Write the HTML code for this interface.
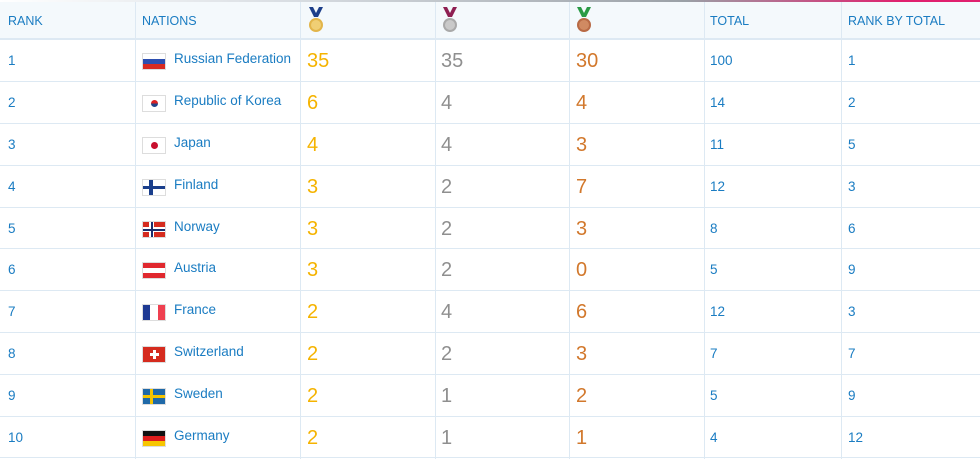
<!DOCTYPE html>
<html><head><style>
*{margin:0;padding:0;box-sizing:border-box}
body{width:980px;height:459px;background:#fff;font-family:"Liberation Sans",sans-serif;position:relative;overflow:hidden}
.top{position:absolute;left:0;top:0;width:980px;height:3px;background:linear-gradient(90deg,#fff,#d8dde2 30%,#9aa0a6 70%,#e0206e 92%,#e0206e)}
.hdr{position:absolute;left:0;top:2px;width:980px;height:37px;background:#f4f9fc;border-bottom:1px solid #dde9f3}
.vl{position:absolute;top:2px;width:1px;height:457px;background:#dde9f3}
.row{position:absolute;left:0;width:980px;height:42px;border-top:1px solid #dde9f3}
.t{position:absolute;top:21px;color:#1a7cc2;font-size:13.5px;line-height:16px;margin-top:-8px;white-space:nowrap}
.n{top:19px}
.h{font-size:12.5px;top:21px}
.m{font-size:20px;line-height:22px;margin-top:-11px}
.g{color:#f5b300}.s{color:#8f8f8f}.b{color:#d2782c}
.flag{position:absolute;left:142px;top:13px;width:24px;height:17px;overflow:hidden;border:1px solid #ddd}
.c1{left:8px}.c2{left:174px}.c3{left:307px}.c4{left:441px}.c5{left:576px}.c6{left:710px}.c7{left:848px}
</style></head><body>
<div class="top"></div>
<div class="hdr"></div>
<div class="vl" style="left:135px"></div><div class="vl" style="left:300px"></div><div class="vl" style="left:435px"></div><div class="vl" style="left:569px"></div><div class="vl" style="left:704px"></div><div class="vl" style="left:841px"></div>
<div class="t h c1">RANK</div>
<div class="t h" style="left:142px">NATIONS</div>
<div class="t h c6">TOTAL</div>
<div class="t h c7">RANK BY TOTAL</div>
<svg style="position:absolute;left:307px;top:7px" width="18" height="26"><path d="M2 0h4l3 6 3-6h4l-5 10h-4z" fill="#1d3f8a"/><circle cx="9" cy="18" r="7" fill="#e2b54a"/><circle cx="9" cy="18" r="5" fill="#f0cf74"/></svg>
<svg style="position:absolute;left:441px;top:7px" width="18" height="26"><path d="M2 0h4l3 6 3-6h4l-5 10h-4z" fill="#8e1f52"/><circle cx="9" cy="18" r="7" fill="#a9a9a9"/><circle cx="9" cy="18" r="5" fill="#c9c9c9"/></svg>
<svg style="position:absolute;left:575px;top:7px" width="18" height="26"><path d="M2 0h4l3 6 3-6h4l-5 10h-4z" fill="#2a9a45"/><circle cx="9" cy="18" r="7" fill="#b86a45"/><circle cx="9" cy="18" r="5" fill="#d08a62"/></svg>

<div class="row" style="top:39px">
<div class="t c1">1</div>
<div class="flag"><div style="height:33%;background:#fff"></div><div style="height:34%;background:#2d4fb0"></div><div style="height:33%;background:#d82a20"></div></div>
<div class="t n c2">Russian Federation</div>
<div class="t m g c3">35</div><div class="t m s c4">35</div><div class="t m b c5">30</div>
<div class="t c6">100</div><div class="t c7">1</div>
</div>

<div class="row" style="top:81px">
<div class="t c1">2</div>
<div class="flag"><div style="height:100%;background:#fff;position:relative"><div style="position:absolute;left:8px;top:4px;width:7px;height:7px;border-radius:50%;background:linear-gradient(#d22 50%,#248 50%)"></div></div></div>
<div class="t n c2">Republic of Korea</div>
<div class="t m g c3">6</div><div class="t m s c4">4</div><div class="t m b c5">4</div>
<div class="t c6">14</div><div class="t c7">2</div>
</div>

<div class="row" style="top:123px">
<div class="t c1">3</div>
<div class="flag"><div style="height:100%;background:#fff;position:relative"><div style="position:absolute;left:8px;top:4px;width:7px;height:7px;border-radius:50%;background:#c8102e"></div></div></div>
<div class="t n c2">Japan</div>
<div class="t m g c3">4</div><div class="t m s c4">4</div><div class="t m b c5">3</div>
<div class="t c6">11</div><div class="t c7">5</div>
</div>

<div class="row" style="top:165px">
<div class="t c1">4</div>
<div class="flag"><div style="height:100%;background:#fff;position:relative"><div style="position:absolute;left:0;top:6px;width:24px;height:3px;background:#1a3f8c"></div><div style="position:absolute;left:6px;top:0;width:4px;height:16px;background:#1a3f8c"></div></div></div>
<div class="t n c2">Finland</div>
<div class="t m g c3">3</div><div class="t m s c4">2</div><div class="t m b c5">7</div>
<div class="t c6">12</div><div class="t c7">3</div>
</div>

<div class="row" style="top:207px">
<div class="t c1">5</div>
<div class="flag"><div style="height:100%;background:#d52b1e;position:relative"><div style="position:absolute;left:0;top:5px;width:24px;height:5px;background:#fff"></div><div style="position:absolute;left:6px;top:0;width:5px;height:16px;background:#fff"></div><div style="position:absolute;left:0;top:6.5px;width:24px;height:2px;background:#1a2e6c"></div><div style="position:absolute;left:7.5px;top:0;width:2px;height:16px;background:#1a2e6c"></div></div></div>
<div class="t n c2">Norway</div>
<div class="t m g c3">3</div><div class="t m s c4">2</div><div class="t m b c5">3</div>
<div class="t c6">8</div><div class="t c7">6</div>
</div>

<div class="row" style="top:248px">
<div class="t c1">6</div>
<div class="flag"><div style="height:33%;background:#e0282e"></div><div style="height:34%;background:#fff"></div><div style="height:33%;background:#e0282e"></div></div>
<div class="t n c2">Austria</div>
<div class="t m g c3">3</div><div class="t m s c4">2</div><div class="t m b c5">0</div>
<div class="t c6">5</div><div class="t c7">9</div>
</div>

<div class="row" style="top:290px">
<div class="t c1">7</div>
<div class="flag"><div style="display:flex;height:100%"><div style="flex:1;background:#1f3a93"></div><div style="flex:1;background:#fff"></div><div style="flex:1;background:#ef4050"></div></div></div>
<div class="t n c2">France</div>
<div class="t m g c3">2</div><div class="t m s c4">4</div><div class="t m b c5">6</div>
<div class="t c6">12</div><div class="t c7">3</div>
</div>

<div class="row" style="top:332px">
<div class="t c1">8</div>
<div class="flag"><div style="height:100%;background:#d52b1e;position:relative"><div style="position:absolute;left:10px;top:3px;width:3px;height:9px;background:#fff"></div><div style="position:absolute;left:7px;top:6px;width:9px;height:3px;background:#fff"></div></div></div>
<div class="t n c2">Switzerland</div>
<div class="t m g c3">2</div><div class="t m s c4">2</div><div class="t m b c5">3</div>
<div class="t c6">7</div><div class="t c7">7</div>
</div>

<div class="row" style="top:374px">
<div class="t c1">9</div>
<div class="flag"><div style="height:100%;background:#1f69a8;position:relative"><div style="position:absolute;left:0;top:6px;width:24px;height:3px;background:#f5c400"></div><div style="position:absolute;left:7px;top:0;width:3px;height:16px;background:#f5c400"></div></div></div>
<div class="t n c2">Sweden</div>
<div class="t m g c3">2</div><div class="t m s c4">1</div><div class="t m b c5">2</div>
<div class="t c6">5</div><div class="t c7">9</div>
</div>

<div class="row" style="top:416px">
<div class="t c1">10</div>
<div class="flag"><div style="height:33%;background:#111"></div><div style="height:34%;background:#dd1c1c"></div><div style="height:33%;background:#f7c600"></div></div>
<div class="t n c2">Germany</div>
<div class="t m g c3">2</div><div class="t m s c4">1</div><div class="t m b c5">1</div>
<div class="t c6">4</div><div class="t c7">12</div>
</div>
<div class="row" style="top:457px;height:2px"></div>
</body></html>
